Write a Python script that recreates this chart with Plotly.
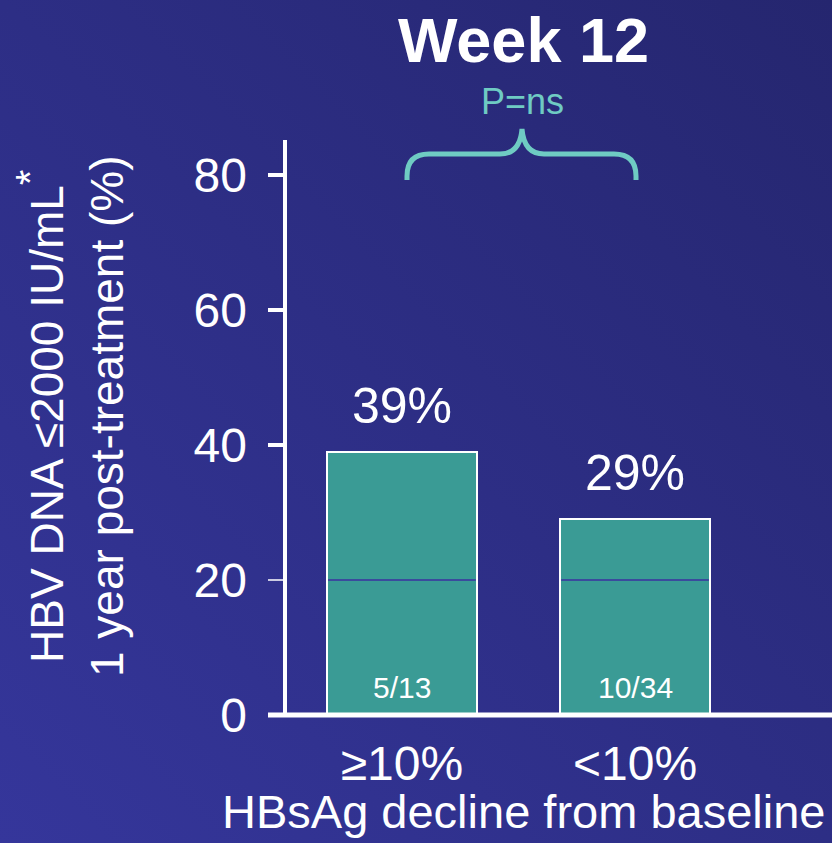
import base64
import plotly.graph_objects as go

# Data
categories = ["≥10%", "<10%"]
percent_values = [39, 29]
percent_labels = ["39%", "29%"]
count_labels = ["5/13", "10/34"]
y_ticks = [0, 20, 40, 60, 80]

# Figure geometry (pixels)
W, H = 832, 843
L, R, T, B = 284, 0, 121, 128
PW, PH = W - L - R, H - T - B
Y_MAX = 88
X_RANGE = [-0.506, 1.845]
BAR_W = 0.644

FONT = "Liberation Sans, Arial, sans-serif"
TEAL = "#3a9b95"
BRACE = "#6fcbc3"


def px(X):
    return (X - L) / PW


def py(Y):
    return (H - B - Y) / PH


def P(X, Y):
    return f"{px(X):.5f},{py(Y):.5f}"


# Background gradient
svg = (
    "<svg xmlns='http://www.w3.org/2000/svg' width='832' height='843' preserveAspectRatio='none'>"
    "<defs><linearGradient id='g' x1='0' y1='1' x2='1' y2='0'>"
    "<stop offset='0' stop-color='#35369b'/><stop offset='1' stop-color='#25266f'/>"
    "</linearGradient></defs><rect width='832' height='843' fill='url(#g)'/></svg>"
)
bg_uri = "data:image/svg+xml;base64," + base64.b64encode(svg.encode()).decode()

fig = go.Figure()
fig.add_trace(
    go.Bar(
        x=[0, 1],
        y=percent_values,
        width=BAR_W,
        marker=dict(color=TEAL, line=dict(color="white", width=2)),
        hoverinfo="skip",
    )
)

annotations = []
for i, (v, lab, cnt) in enumerate(zip(percent_values, percent_labels, count_labels)):
    annotations.append(dict(x=i, y=v, xref="x", yref="y", text=lab, showarrow=False,
                            xanchor="center", yanchor="bottom", yshift=16,
                            font=dict(family=FONT, size=50, color="white")))
    annotations.append(dict(x=i, y=0, xref="x", yref="y", text=cnt, showarrow=False,
                            xanchor="center", yanchor="bottom", yshift=9,
                            font=dict(family=FONT, size=30, color="white")))

# Title, p-value, axis titles
annotations += [
    dict(x=px(523), y=py(40), xref="paper", yref="paper", text="<b>Week 12</b>",
         xanchor="center", yanchor="middle",
         showarrow=False, font=dict(family=FONT, size=63, color="white")),
    dict(x=px(522), y=py(102), xref="paper", yref="paper", text="P=ns",
         xanchor="center", yanchor="middle",
         showarrow=False, font=dict(family=FONT, size=36, color=BRACE)),
    dict(x=px(70), y=py(416), xref="paper", yref="paper", textangle=-90,
         xanchor="center", yanchor="middle",
         text="HBV DNA ≤2000 IU/mL<sup><span style='font-size:40px'>*</span></sup>"
              "<br>1 year post-treatment (%)",
         showarrow=False, font=dict(family=FONT, size=46, color="white")),
    dict(x=px(220), y=py(811), xref="paper", yref="paper",
         xanchor="left", yanchor="middle",
         text="HBsAg decline from baseline", showarrow=False,
         font=dict(family=FONT, size=47, color="white")),
]

shapes = []
# y axis line and ticks
shapes.append(dict(type="line", xref="paper", yref="paper", x0=px(285), x1=px(285),
                   y0=py(715), y1=py(140), line=dict(color="white", width=4)))
for t in y_ticks:
    yy = 715 - t * 6.75
    w = 1.5 if t == 20 else 4
    shapes.append(dict(type="line", xref="paper", yref="paper", x0=px(268), x1=px(285),
                       y0=py(yy), y1=py(yy), line=dict(color="white", width=w)))
# x axis line
shapes.append(dict(type="line", xref="paper", yref="paper", x0=px(268), x1=1.0,
                   y0=py(715), y1=py(715), line=dict(color="white", width=5)))
# reference line at 20% across each bar
for i in range(len(percent_values)):
    shapes.append(dict(type="line", xref="x", yref="y",
                       x0=i - BAR_W / 2 + 0.005, x1=i + BAR_W / 2 - 0.005,
                       y0=20, y1=20, layer="above", line=dict(color="#3b30a0", width=1.5)))

# Brace over both bars
r = 22
path = (
    f"M{P(407, 180)} L{P(407, 154 + r)} Q{P(407, 154)} {P(407 + r, 154)} "
    f"L{P(500, 154)} Q{P(520, 154)} {P(522, 129)} "
    f"Q{P(524, 154)} {P(544, 154)} L{P(636 - r, 154)} "
    f"Q{P(636, 154)} {P(636, 154 + r)} L{P(636, 180)}"
)
shapes.append(dict(type="path", xref="paper", yref="paper", path=path,
                   line=dict(color=BRACE, width=5)))

fig.update_layout(
    width=W, height=H,
    margin=dict(l=L, r=R, t=T, b=B, pad=0),
    paper_bgcolor="#2e2f88",
    plot_bgcolor="rgba(0,0,0,0)",
    showlegend=False,
    bargap=0,
    images=[dict(source=bg_uri, xref="paper", yref="paper", x=px(0), y=py(0),
                 sizex=W / PW, sizey=H / PH, sizing="stretch", layer="below",
                 xanchor="left", yanchor="top")],
    xaxis=dict(range=X_RANGE, tickvals=[0, 1], ticktext=categories, showgrid=False,
               zeroline=False, showline=False, ticks="", ticklabelstandoff=16,
               tickfont=dict(family=FONT, size=48, color="white"), fixedrange=True),
    yaxis=dict(range=[0, Y_MAX], tickvals=y_ticks, showgrid=False, zeroline=False,
               showline=False, ticks="", ticklabelstandoff=36,
               tickfont=dict(family=FONT, size=48, color="white"), fixedrange=True),
    annotations=annotations,
    shapes=shapes,
)

fig.write_html("out.html")
